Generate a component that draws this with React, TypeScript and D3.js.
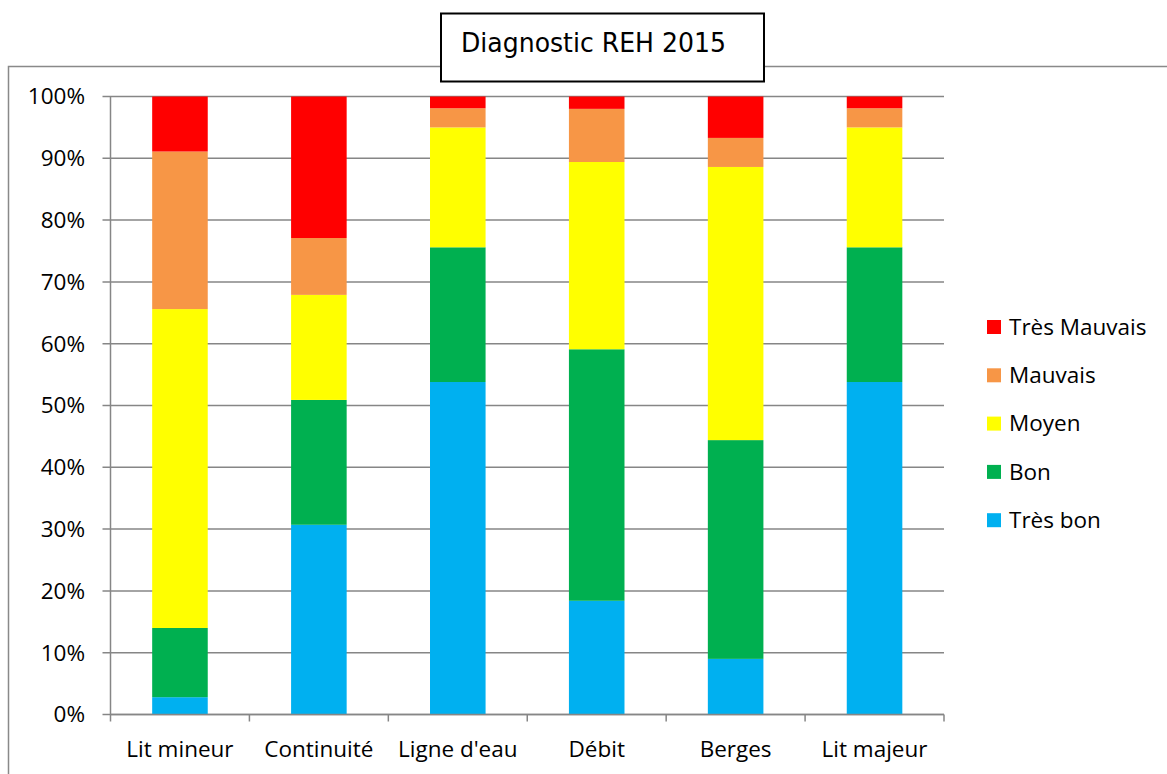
import React from "react";
import * as d3 from "d3";

const categories = ["Lit mineur", "Continuité", "Ligne d'eau", "Débit", "Berges", "Lit majeur"];
const seriesNames = ["Très bon", "Bon", "Moyen", "Mauvais", "Très Mauvais"];
const tresBon = [2.8, 30.7, 53.8, 18.4, 9.0, 53.8];
const bon = [11.2, 20.2, 21.8, 40.7, 35.4, 21.8];
const moyen = [51.6, 17.0, 19.4, 30.3, 44.2, 19.4];
const mauvais = [25.5, 9.2, 3.1, 8.6, 4.7, 3.1];
const tresMauvais = [8.9, 22.9, 1.9, 2.0, 6.7, 1.9];
const colors = ["#00B0F0", "#00B050", "#FFFF00", "#F79646", "#FF0000"];
const yTicks = [0, 10, 20, 30, 40, 50, 60, 70, 80, 90, 100];
const title = "Diagnostic REH 2015";

export default function App() {
  const W = 1167, H = 774;
  const left = 110.5, right = 944, top = 96.5, bottom = 714.5;
  const x = d3.scaleBand<string>().domain(categories).range([left, right]).paddingInner(0.6).paddingOuter(0.3);
  const xb = d3.scaleBand<string>().domain(categories).range([left, right]);
  const y = d3.scaleLinear().domain([0, 100]).range([bottom, top]);
  const table = categories.map((c, i) => ({
    cat: c,
    "Très bon": tresBon[i],
    Bon: bon[i],
    Moyen: moyen[i],
    Mauvais: mauvais[i],
    "Très Mauvais": tresMauvais[i],
  }));
  const stacked = d3.stack<any>().keys(seriesNames)(table);
  const gridColor = "#868686";
  const labelFont = "'Open Sans', Lato, sans-serif";
  const fs = 22.5;
  const legendNames = [...seriesNames].reverse();
  const legendColors = [...colors].reverse();
  return (
    <div style={{ position: "absolute", left: 0, top: 0 }}>
      <svg width={W} height={H} style={{ display: "block" }}>
        <rect x={0} y={0} width={W} height={H} fill="#fff" />
        {/* outer chart border */}
        <path d={`M8.5,${H + 5} V66.5 H${W + 5}`} fill="none" stroke="#898989" strokeWidth={1.5} />
        {/* gridlines */}
        {yTicks.map((t) => (
          <line key={t} x1={left - 8} x2={right} y1={y(t)} y2={y(t)} stroke={gridColor} strokeWidth={1.5} />
        ))}
        {/* bars */}
        {stacked.map((s, si) => (
          <g key={s.key} fill={colors[si]}>
            {s.map((d, i) => (
              <rect
                key={i}
                x={x(categories[i])}
                width={x.bandwidth()}
                y={y(d[1])}
                height={y(d[0]) - y(d[1])}
              />
            ))}
          </g>
        ))}
        {/* axes */}
        <line x1={left} x2={left} y1={top} y2={bottom} stroke={gridColor} strokeWidth={1.5} />
        <line x1={left} x2={right} y1={bottom} y2={bottom} stroke={gridColor} strokeWidth={1.5} />
        {categories.map((c) => (
          <line key={c} x1={xb(c)} x2={xb(c)} y1={bottom} y2={bottom + 7} stroke={gridColor} strokeWidth={1.5} />
        ))}
        <line x1={right} x2={right} y1={bottom} y2={bottom + 7} stroke={gridColor} strokeWidth={1.5} />
        {yTicks.map((t) => (
          <text key={t} x={85} y={y(t) + 7.8} textAnchor="end" fontFamily={labelFont} fontSize={fs} fill="#000">
            {t}%
          </text>
        ))}
        {categories.map((c) => (
          <text key={c} x={(xb(c) as number) + xb.bandwidth() / 2} y={757} textAnchor="middle" fontFamily={labelFont} fontSize={fs} fill="#000">
            {c}
          </text>
        ))}
        {/* legend */}
        {legendNames.map((n, i) => (
          <g key={n} transform={`translate(987, ${327 + i * 48.3})`}>
            <rect x={0} y={-7} width={14} height={14} fill={legendColors[i]} />
            <text x={22} y={7.8} fontFamily={labelFont} fontSize={fs} fill="#000">
              {n}
            </text>
          </g>
        ))}
        {/* title box */}
        <rect x={441} y={13.5} width={323} height={68} fill="#fff" stroke="#000" strokeWidth={2} />
        <text x={461} y={52} fontFamily="'DejaVu Sans', Tahoma, sans-serif" fontSize={27} fill="#000" textLength={265} lengthAdjust="spacingAndGlyphs">
          {title}
        </text>
      </svg>
    </div>
  );
}
